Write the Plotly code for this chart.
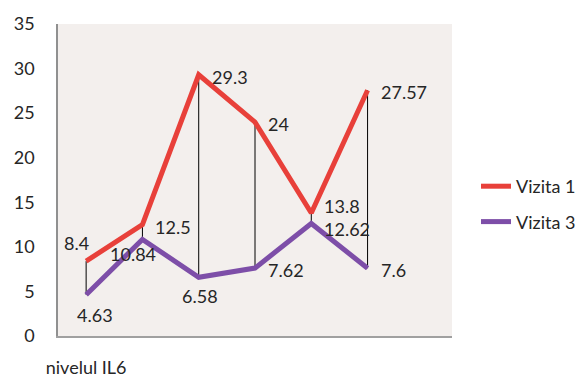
import plotly.graph_objects as go

# Categories (the last slot is left empty, as in the original workbook layout)
categories = [0, 1, 2, 3, 4, 5, 6]
tick_labels = ["nivelul IL6", "", "", "", "", "", ""]
visit1 = [8.4, 12.5, 29.3, 24, 13.8, 27.57]
visit3 = [4.63, 10.84, 6.58, 7.62, 12.62, 7.6]

# Label placement per point: (xanchor, yanchor, xshift, yshift)
RIGHT = ("left", "middle", 11, -2)
visit1_place = [("right", "middle", 5, 18), RIGHT, RIGHT, RIGHT,
                ("left", "middle", 11, 7), RIGHT]
visit3_place = [("center", "middle", 9, -20), ("center", "middle", -9, -15),
                ("center", "middle", 1, -19), RIGHT, ("left", "middle", 11, -5), RIGHT]

RED = "#e8403a"
PURPLE = "#7d4ea8"
FONT = "Lato"
TEXT = "#262626"
FS = 18

xs = categories[:len(visit1)]

# High-low connectors between the two visits
hx, hy = [], []
for x, a, b in zip(xs, visit1, visit3):
    hx += [x, x, None]
    hy += [a, b, None]

fig = go.Figure()
fig.add_trace(go.Scatter(x=hx, y=hy, mode="lines", line=dict(color="black", width=1),
                         showlegend=False, hoverinfo="skip"))
fig.add_trace(go.Scatter(x=xs, y=visit1, name="Vizita 1", mode="lines",
                         line=dict(color=RED, width=5), legendgroup="a"))
fig.add_trace(go.Scatter(x=xs, y=visit3, name="Vizita 3", mode="lines",
                         line=dict(color=PURPLE, width=5), legendgroup="b"))

# Data labels
for series, places in ((visit1, visit1_place), (visit3, visit3_place)):
    for x, v, (xa, ya, dx, dy) in zip(xs, series, places):
        fig.add_annotation(x=x, y=v, text=f"{v:g}", showarrow=False,
                           xanchor=xa, yanchor=ya, xshift=dx, yshift=dy,
                           font=dict(family=FONT, size=FS, color=TEXT))

fig.update_layout(
    width=585, height=381,
    margin=dict(l=58, r=133, t=24, b=45),
    paper_bgcolor="white",
    plot_bgcolor="#f3efed",
    font=dict(family=FONT, size=FS, color=TEXT),
    showlegend=True,
    legend=dict(xref="container", yref="container", x=476 / 585, y=1 - 168 / 381,
                xanchor="left", yanchor="top", bgcolor="rgba(0,0,0,0)",
                font=dict(family=FONT, size=FS, color=TEXT),
                tracegroupgap=9, traceorder="grouped"),
)
fig.update_xaxes(range=[-0.5, 6.5], tickvals=categories, ticktext=tick_labels,
                 showgrid=False, zeroline=False, showline=True, linecolor="#a0a0a0",
                 linewidth=1.5, ticks="", ticklabelstandoff=15, automargin=False,
                 fixedrange=True)
fig.update_yaxes(range=[0, 35], dtick=5, showgrid=False, zeroline=False,
                 showline=True, linecolor="#909090", linewidth=1.5, ticks="",
                 ticklabelstandoff=18, automargin=False, fixedrange=True)

fig.write_html("out.html")
